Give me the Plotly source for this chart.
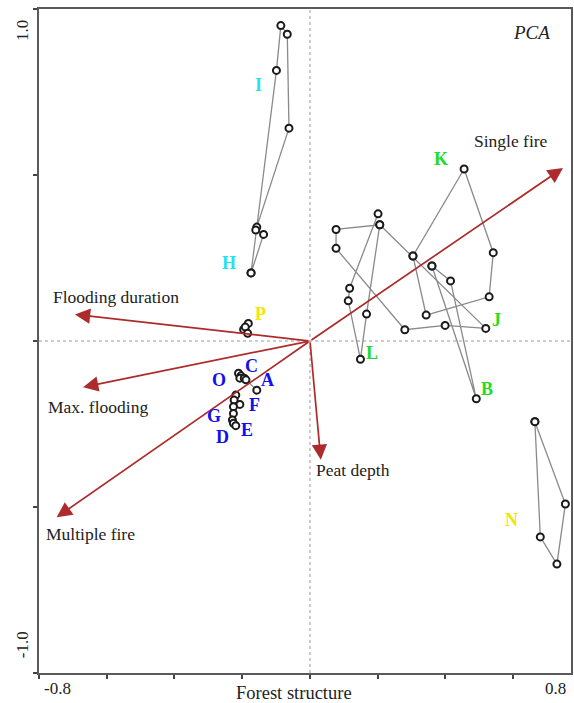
import plotly.graph_objects as go

# ---- sample trajectories in PCA space (PC1 = Forest structure) ----
# None separates independent polylines inside one group
traj_IH_x = [-0.174, -0.157, -0.099, -0.086, -0.067, -0.062, -0.160, -0.137, -0.174]
traj_IH_y = [0.205, 0.343, 0.815, 0.950, 0.924, 0.641, 0.334, 0.321, 0.205]

traj_P_x = [-0.182, -0.196, -0.191, -0.184]
traj_P_y = [0.053, 0.035, 0.042, 0.023]

traj_blue_x = [-0.211, -0.204, -0.207, -0.194, -0.189, -0.157, None,
               -0.219, -0.224, -0.207, -0.226, -0.226, -0.229, -0.226, -0.219]
traj_blue_y = [-0.097, -0.105, -0.112, -0.112, -0.117, -0.148, None,
               -0.163, -0.178, -0.191, -0.198, -0.218, -0.238, -0.248, -0.255]

traj_green_x = [0.201, 0.117, 0.113, 0.149, 0.167, 0.206, 0.077, 0.077, 0.280,
                0.399, 0.519, 0.206, None,
                0.304, 0.455, 0.541, 0.529, 0.343, 0.304, None,
                0.360, 0.415, 0.491, 0.360]
traj_green_y = [0.383, 0.159, 0.121, -0.055, 0.081, 0.350, 0.336, 0.279, 0.034,
                0.047, 0.038, 0.350, None,
                0.256, 0.518, 0.266, 0.133, 0.078, 0.256, None,
                0.226, 0.181, -0.174, 0.226]

traj_N_x = [0.664, 0.754, 0.729, 0.680, 0.664]
traj_N_y = [-0.243, -0.491, -0.672, -0.590, -0.243]

# ---- environmental vectors ----
vec_names = ["Single fire", "Flooding duration", "Max. flooding", "Multiple fire", "Peat depth"]
vec_x = [0.747, -0.694, -0.670, -0.748, 0.032]
vec_y = [0.521, 0.080, -0.139, -0.531, -0.358]
vec_label_x = [0.594, -0.574, -0.626, -0.647, 0.126]
vec_label_y = [0.602, 0.133, -0.199, -0.581, -0.389]

# ---- site labels ----
site_names = ["I", "H", "P", "K", "L", "J", "B", "N", "C", "O", "A", "F", "G", "D", "E"]
site_x = [-0.153, -0.238, -0.147, 0.388, 0.182, 0.550, 0.524, 0.594,
          -0.174, -0.268, -0.124, -0.165, -0.282, -0.259, -0.185]
site_y = [0.771, 0.235, 0.081, 0.548, -0.036, 0.063, -0.145, -0.539,
          -0.075, -0.117, -0.117, -0.193, -0.226, -0.289, -0.268]
CYAN, YELLOW, GREEN, BLUE = "#1fe3f2", "#f2e600", "#22dd22", "#1010ee"
site_colors = [CYAN, CYAN, YELLOW, GREEN, GREEN, GREEN, GREEN, YELLOW,
               BLUE, BLUE, BLUE, BLUE, BLUE, BLUE, BLUE]

SERIF = "Liberation Serif, Times New Roman, serif"
X_RANGE = [-0.8, 0.7706]
Y_RANGE = [-1.0, 1.0]

fig = go.Figure()

# zero reference lines
fig.add_shape(type="line", x0=0, x1=0, y0=Y_RANGE[0], y1=Y_RANGE[1],
              line=dict(color="#9a9a9a", width=1, dash="dot"), layer="below")
fig.add_shape(type="line", x0=X_RANGE[0], x1=X_RANGE[1], y0=0, y1=0,
              line=dict(color="#9a9a9a", width=1, dash="dot"), layer="below")

for tx, ty in [(traj_IH_x, traj_IH_y), (traj_P_x, traj_P_y), (traj_blue_x, traj_blue_y),
               (traj_green_x, traj_green_y), (traj_N_x, traj_N_y)]:
    fig.add_trace(go.Scatter(
        x=tx, y=ty, mode="lines", showlegend=False, hoverinfo="skip",
        line=dict(color="#8a8a8a", width=1.3)))

# environmental vectors drawn from the origin
for vx, vy in zip(vec_x, vec_y):
    fig.add_annotation(x=vx, y=vy, ax=0, ay=0, xref="x", yref="y", axref="x", ayref="y",
                       text="", showarrow=True, arrowhead=2, arrowsize=1.8,
                       arrowwidth=1.7, arrowcolor="#ae2b2b")

for tx, ty in [(traj_IH_x, traj_IH_y), (traj_P_x, traj_P_y), (traj_blue_x, traj_blue_y),
               (traj_green_x, traj_green_y), (traj_N_x, traj_N_y)]:
    fig.add_trace(go.Scatter(
        x=tx, y=ty, mode="markers", showlegend=False, hoverinfo="skip",
        marker=dict(symbol="circle", size=7, color="white",
                    line=dict(color="#1a1a1a", width=2))))

for name, lx, ly in zip(vec_names, vec_label_x, vec_label_y):
    fig.add_annotation(x=lx, y=ly, text=name, showarrow=False,
                       font=dict(family=SERIF, size=17.5, color="#222222"))

for name, sx, sy, col in zip(site_names, site_x, site_y, site_colors):
    fig.add_annotation(x=sx, y=sy, text="<b>%s</b>" % name, showarrow=False,
                       font=dict(family=SERIF, size=18, color=col))

fig.add_annotation(x=0.653, y=0.928, text="<i>PCA</i>", showarrow=False,
                   font=dict(family=SERIF, size=19, color="#222222"))

# axis end labels and title
fig.add_annotation(x=-0.744, y=0, yref="paper", yanchor="top", yshift=-4, text="-0.8",
                   showarrow=False, font=dict(family=SERIF, size=17, color="#222222"))
fig.add_annotation(x=0.726, y=0, yref="paper", yanchor="top", yshift=-4, text="0.8",
                   showarrow=False, font=dict(family=SERIF, size=17, color="#222222"))
fig.add_annotation(x=-0.048, y=0, yref="paper", yanchor="top", yshift=-8,
                   text="Forest structure", showarrow=False,
                   font=dict(family=SERIF, size=18.5, color="#222222"))
fig.add_annotation(x=0, xref="paper", xanchor="right", xshift=-5, y=0.935, text="1.0",
                   textangle=-90, showarrow=False,
                   font=dict(family=SERIF, size=17, color="#222222"))
fig.add_annotation(x=0, xref="paper", xanchor="right", xshift=-5, y=-0.915, text="-1.0",
                   textangle=-90, showarrow=False,
                   font=dict(family=SERIF, size=17, color="#222222"))

axis_common = dict(showgrid=False, zeroline=False, showline=True, linecolor="#5a5a5a",
                   linewidth=2, mirror=True, ticks="outside", ticklen=4, tickwidth=1.5,
                   tickcolor="#444444", showticklabels=False)

fig.update_layout(
    width=574, height=703,
    margin=dict(l=39, r=1, t=9, b=30),
    paper_bgcolor="white", plot_bgcolor="white",
    xaxis=dict(range=X_RANGE, tickvals=[-0.8, -0.6, -0.4, -0.2, 0, 0.2, 0.4, 0.6],
               **axis_common),
    yaxis=dict(range=Y_RANGE, tickvals=[-1.0, -0.5, 0, 0.5, 1.0], **axis_common),
)

fig.write_html("out.html")
